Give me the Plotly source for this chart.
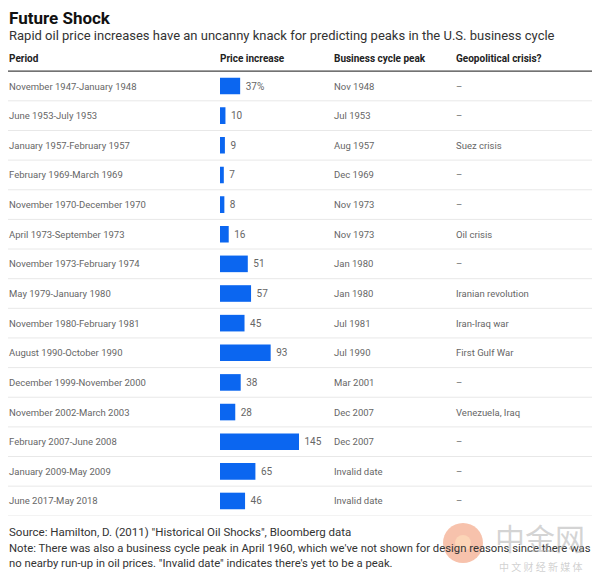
import plotly.graph_objects as go

periods = [
    "November 1947-January 1948", "June 1953-July 1953", "January 1957-February 1957",
    "February 1969-March 1969", "November 1970-December 1970", "April 1973-September 1973",
    "November 1973-February 1974", "May 1979-January 1980", "November 1980-February 1981",
    "August 1990-October 1990", "December 1999-November 2000", "November 2002-March 2003",
    "February 2007-June 2008", "January 2009-May 2009", "June 2017-May 2018",
]
price_increase = [37, 10, 9, 7, 8, 16, 51, 57, 45, 93, 38, 28, 145, 65, 46]
cycle_peak = [
    "Nov 1948", "Jul 1953", "Aug 1957", "Dec 1969", "Nov 1973", "Nov 1973", "Jan 1980",
    "Jan 1980", "Jul 1981", "Jul 1990", "Mar 2001", "Dec 2007", "Dec 2007",
    "Invalid date", "Invalid date",
]
crisis = [
    "–", "–", "Suez crisis", "–", "–", "Oil crisis", "–", "Iranian revolution",
    "Iran-Iraq war", "First Gulf War", "–", "Venezuela, Iraq", "–", "–", "–",
]
headers = ["Period", "Price increase", "Business cycle peak", "Geopolitical crisis?"]

# page has an 8px body margin; size figure so that it fits the 600x578 window
OFF = 8
W, H = 600 - OFF, 578 - OFF
def px_x(p): return max(p - OFF, 1) / W
def px_y(p): return 1 - (p - OFF) / H

rows = list(range(len(periods)))
labels = [(" " + f"{v}%") if i == 0 else " " + str(v) for i, v in enumerate(price_increase)]

FONT = "Roboto"
fig = go.Figure()
fig.add_trace(go.Bar(
    x=price_increase, y=rows, orientation="h",
    marker=dict(color="#0b66f0", line=dict(width=0)),
    width=0.56,
    text=labels, textposition="outside", cliponaxis=False,
    textfont=dict(family=FONT, size=10, color="#666666"),
    hoverinfo="skip",
))

top, bottom = 71.2, 515.8
bar_left = 220
scale = 79 / 145.0
fig.update_layout(
    width=W, height=H, margin=dict(l=0, r=0, t=0, b=0),
    paper_bgcolor="white", plot_bgcolor="white", showlegend=False,
    xaxis=dict(domain=[px_x(bar_left), 1], range=[0, (600 - bar_left) / scale],
               visible=False, fixedrange=True),
    yaxis=dict(domain=[px_y(bottom), px_y(top)], range=[len(rows) - 0.5, -0.5],
               visible=False, fixedrange=True),
)

def A(text, x, y, size, color, yref="paper", **kw):
    return dict(text=text, x=x, y=y, xref="paper", yref=yref, xanchor="left",
                yanchor="middle", showarrow=False, borderpad=0, borderwidth=0,
                font=dict(family=FONT, size=size, color=color), **kw)

ann = []
ann.append(A("<b>Future Shock</b>", px_x(6), px_y(18), 17, "#111111"))
ann.append(A("Rapid oil price increases have an uncanny knack for predicting peaks in the U.S. business cycle",
             px_x(6), px_y(35), 13, "#333333"))
col_x = [6, 220, 334, 456]
for h, cx in zip(headers, col_x):
    ann.append(A(f"<b>{h}</b>", px_x(cx), px_y(58), 10, "#222222"))
for i in rows:
    for txt, cx in ((periods[i], 6), (cycle_peak[i], 334), (crisis[i], 456)):
        ann.append(A(txt, px_x(cx), i, 9.5, "#666666", yref="y"))

ann.append(A('Source: Hamilton, D. (2011) "Historical Oil Shocks", Bloomberg data',
             px_x(6), px_y(532), 11.5, "#333333"))
ann.append(A("Note: There was also a business cycle peak in April 1960, which we've not shown for design reasons since there was<br>"
             "no nearby run-up in oil prices. \"Invalid date\" indicates there's yet to be a peak.",
             px_x(6), px_y(556), 11.3, "#333333", align="left"))
# watermark
ann.append(dict(text="中金网", x=px_x(540), y=px_y(537), xref="paper", yref="paper",
                xanchor="center", yanchor="middle", showarrow=False,
                font=dict(family="Noto Sans CJK SC", size=30, color="rgba(170,170,170,0.5)")))
ann.append(dict(text="中 文 财 经 新 媒 体", x=px_x(540), y=px_y(566), xref="paper", yref="paper",
                xanchor="center", yanchor="middle", showarrow=False,
                font=dict(family="Noto Sans CJK SC", size=10, color="rgba(170,170,170,0.55)")))

shapes = []
shapes.append(dict(type="line", xref="paper", yref="paper", x0=0, x1=1,
                   y0=px_y(top), y1=px_y(top), line=dict(color="#444444", width=1.2)))
for i in rows:
    shapes.append(dict(type="line", xref="paper", yref="y", x0=0, x1=1, y0=i + 0.5, y1=i + 0.5,
                       line=dict(color="#e8e8e8", width=1)))
shapes.append(dict(type="circle", xref="paper", yref="paper",
                   x0=px_x(443), x1=px_x(483), y0=px_y(563), y1=px_y(523),
                   fillcolor="rgba(238,120,70,0.45)", line=dict(width=0), layer="above"))
shapes.append(dict(type="circle", xref="paper", yref="paper",
                   x0=px_x(455), x1=px_x(471), y0=px_y(551), y1=px_y(535),
                   fillcolor="rgba(255,225,190,0.6)", line=dict(width=0), layer="above"))
fig.update_layout(annotations=ann, shapes=shapes)

fig.write_html("out.html")
